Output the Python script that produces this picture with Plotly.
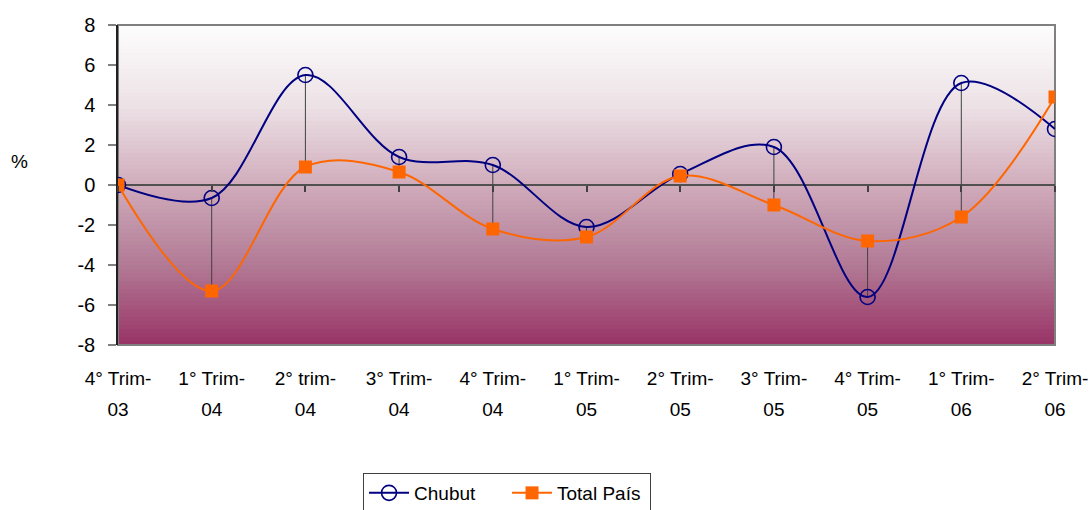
import plotly.graph_objects as go

# ---- data ----
categories_line1 = ["4° Trim-", "1° Trim-", "2° trim-", "3° Trim-", "4° Trim-", "1° Trim-",
                    "2° Trim-", "3° Trim-", "4° Trim-", "1° Trim-", "2° Trim-"]
categories_line2 = ["03", "04", "04", "04", "04", "05", "05", "05", "05", "06", "06"]
chubut = [0.0, -0.65, 5.5, 1.4, 1.0, -2.1, 0.55, 1.9, -5.6, 5.1, 2.8]
total_pais = [0.0, -5.3, 0.9, 0.65, -2.2, -2.6, 0.45, -1.0, -2.8, -1.6, 4.4]
y_ticks = [-8, -6, -4, -2, 0, 2, 4, 6, 8]
y_ticklabels = ["-8", "-6", "-4", "-2", "0", "2", "4", "6", "8"]

FONT = "Liberation Sans, Arial, sans-serif"
x_idx = list(range(len(categories_line1)))

fig = go.Figure()

# high-low lines between the two series
hl_x, hl_y = [], []
for i, (a, b) in enumerate(zip(chubut, total_pais)):
    hl_x += [i, i, None]
    hl_y += [a, b, None]
fig.add_trace(go.Scatter(x=hl_x, y=hl_y, mode="lines", line=dict(color="#404040", width=1),
                         showlegend=False, hoverinfo="skip"))

fig.add_trace(go.Scatter(
    x=x_idx, y=chubut, name="Chubut", mode="lines+markers",
    line=dict(color="#000080", width=2, shape="spline", smoothing=1.0),
    marker=dict(symbol="circle-open", size=15, color="#000080", line=dict(width=1.6, color="#000080")),
))
fig.add_trace(go.Scatter(
    x=x_idx, y=total_pais, name="Total País", mode="lines+markers",
    line=dict(color="#FF6600", width=2, shape="spline", smoothing=1.0),
    marker=dict(symbol="square", size=13, color="#FF6600"),
))
# invisible traces to activate the extra axes
fig.add_trace(go.Scatter(x=[0, 10], y=[0, 0], xaxis="x2", mode="lines",
                         line=dict(width=0), showlegend=False, hoverinfo="skip", opacity=0))
fig.add_trace(go.Scatter(x=[0, 10], y=[0, 0], xaxis="x3", mode="lines",
                         line=dict(width=0), showlegend=False, hoverinfo="skip", opacity=0))

# gradient background shapes
def lerp(c1, c2, t):
    return tuple(round(c1[k] + (c2[k] - c1[k]) * t) for k in range(3))

stops = [(0.0, (153, 51, 102)), (0.25, (178, 122, 149)), (0.5, (208, 172, 187)),
         (0.75, (237, 226, 230)), (1.0, (253, 253, 253))]

def color_at(t):
    for (p0, c0), (p1, c1) in zip(stops[:-1], stops[1:]):
        if p0 <= t <= p1:
            return "rgb(%d,%d,%d)" % lerp(c0, c1, (t - p0) / (p1 - p0))
    return "rgb(253,253,253)"

shapes = []
N = 80
for i in range(N):
    t0 = i / N
    t1 = (i + 1) / N
    shapes.append(dict(type="rect", xref="x domain", yref="y domain", x0=0, x1=1,
                       y0=t0, y1=min(1, t1 + 0.004), fillcolor=color_at((t0 + t1) / 2),
                       line=dict(width=0), layer="below"))
shapes.append(dict(type="rect", xref="x domain", yref="y domain", x0=0, x1=1, y0=0, y1=1,
                   line=dict(color="#808080", width=2), fillcolor="rgba(0,0,0,0)", layer="below"))

ymin, ymax = y_ticks[0], y_ticks[-1]
zero_pos = (0 - ymin) / (ymax - ymin)

fig.update_layout(
    width=1090, height=510,
    margin=dict(l=118, r=35, t=25, b=165, autoexpand=False),
    paper_bgcolor="white", plot_bgcolor="rgba(0,0,0,0)",
    font=dict(family=FONT, size=19, color="black"),
    shapes=shapes,
    xaxis=dict(range=[0, 10], tickmode="array", tickvals=x_idx, ticktext=categories_line1,
               showgrid=False, zeroline=False, showline=False, ticks="", automargin=False,
               ticklabelstandoff=20, tickfont=dict(size=19), ticklabeloverflow="allow"),
    xaxis3=dict(range=[0, 10], overlaying="x", anchor="y", side="bottom",
                tickmode="array", tickvals=x_idx, ticktext=categories_line2,
                showgrid=False, zeroline=False, showline=False, ticks="", automargin=False,
                ticklabelstandoff=51, tickfont=dict(size=19), ticklabeloverflow="allow"),
    xaxis2=dict(range=[0, 10], overlaying="x", anchor="free", position=zero_pos,
                tickmode="array", tickvals=x_idx, showticklabels=False, automargin=False,
                ticks="outside", ticklen=6, tickcolor="#404040", tickwidth=1.5,
                showline=False, showgrid=False, zeroline=False),
    yaxis=dict(range=[ymin, ymax], tickmode="array", tickvals=y_ticks, ticktext=y_ticklabels,
               showgrid=False, zeroline=True, zerolinecolor="#505050", zerolinewidth=1.5,
               showline=True, linecolor="#202020", linewidth=1.5, automargin=False,
               ticks="outside", ticklen=8, tickcolor="#808080", tickwidth=2,
               ticklabelstandoff=9, tickfont=dict(size=20)),
    legend=dict(orientation="h", x=0.2615, xanchor="left", y=-0.40, yanchor="top",
                bordercolor="#404040", borderwidth=1, bgcolor="white",
                font=dict(size=19), itemwidth=40, entrywidth=88),
    annotations=[dict(text="%", xref="paper", yref="paper", x=-0.1046, y=0.575,
                      showarrow=False, font=dict(size=19), xanchor="center", yanchor="middle")],
)

fig.write_html("out.html", config={"displayModeBar": False},
               post_script="document.body.style.margin='0px';document.body.style.overflow='hidden';")
